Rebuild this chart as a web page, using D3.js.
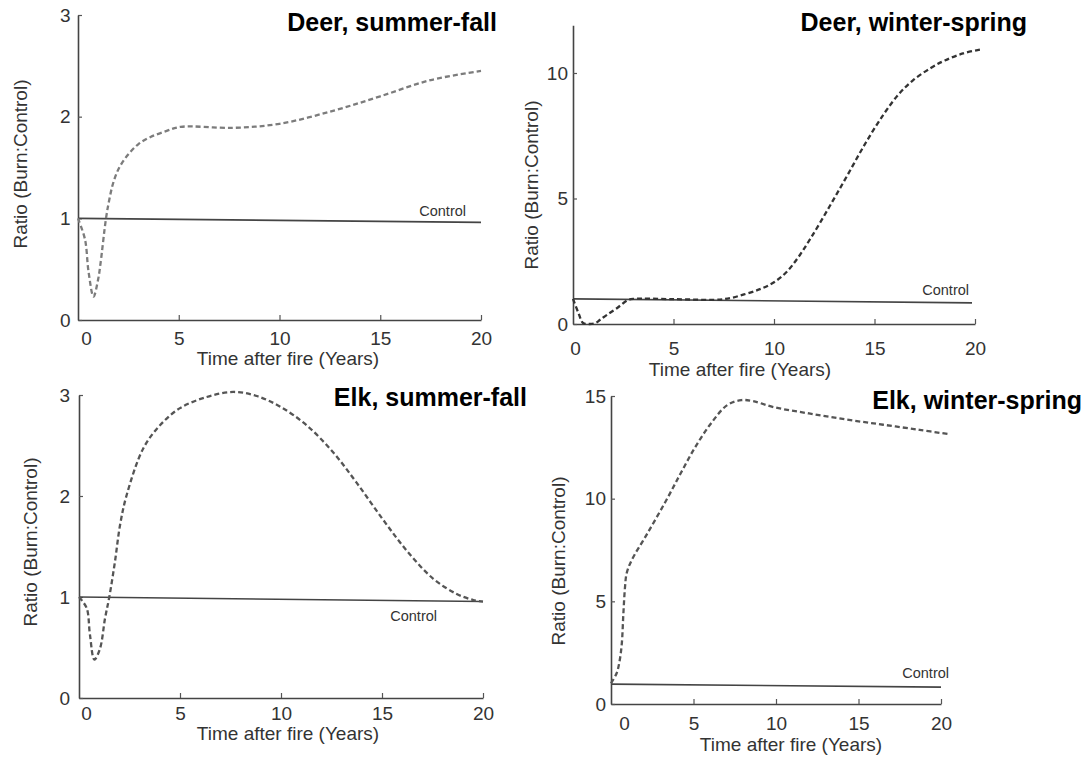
<!DOCTYPE html>
<html>
<head>
<meta charset="utf-8">
<script src="https://cdn.jsdelivr.net/npm/d3@7"></script>
<style>
  body { margin: 0; background: #fff; }
  svg { display: block; font-family: "Liberation Sans", Arial, sans-serif; }
  .tick text { font-size: 19px; fill: #333; }
  .axis-title { font-size: 19px; fill: #333; }
  .panel-title { font-size: 25px; font-weight: bold; fill: #000; }
  .control-label { font-size: 14.5px; fill: #333; }
</style>
</head>
<body>
<div id="chart"></div>
<script>
// ---- data: [years after fire, ratio burn:control] ----
const deerSummerFall = [
  [0, 1.0], [0.35, 0.79], [0.52, 0.48], [0.77, 0.23], [1.0, 0.4], [1.12, 0.56],
  [1.39, 1.0], [1.55, 1.18], [1.75, 1.35], [2.05, 1.5], [2.5, 1.63], [3.0, 1.73],
  [3.6, 1.8], [4.4, 1.86], [5.1, 1.9], [7.7, 1.89], [10, 1.93], [12.7, 2.06],
  [15, 2.2], [17.5, 2.36], [20, 2.45]
];
const deerSummerControl = [[0, 1.0], [20, 0.96]];

const deerWinterSpring = [
  [0, 1.0], [0.27, 0.44], [0.5, 0.04], [0.8, 0.0], [1.1, 0.03], [1.35, 0.17],
  [1.7, 0.37], [2.2, 0.64], [2.7, 0.94], [3, 1.0], [5, 0.99], [7.5, 0.99],
  [8.6, 1.2], [9.4, 1.42], [10, 1.66], [10.6, 2.05], [11.2, 2.65], [11.85, 3.45],
  [12.74, 4.65], [13.64, 5.91], [14.55, 7.2], [15.45, 8.35], [16.2, 9.15],
  [16.9, 9.7], [17.8, 10.2], [18.5, 10.5], [19.4, 10.78], [20.25, 10.93]
];
const deerWinterControl = [[0, 1.0], [19.85, 0.84]];

const elkSummerFall = [
  [0, 1.0], [0.38, 0.89], [0.54, 0.63], [0.76, 0.38], [1.04, 0.49], [1.29, 0.79],
  [1.5, 1.0], [1.78, 1.35], [2.03, 1.71], [2.36, 2.01], [3.18, 2.47], [4.01, 2.7],
  [5.0, 2.87], [6.32, 2.98], [7.64, 3.03], [8.8, 2.99], [10.0, 2.88], [11.27, 2.7],
  [12.59, 2.43], [13.75, 2.13], [15.0, 1.78], [16.22, 1.46], [17.54, 1.18],
  [18.7, 1.03], [19.52, 0.97], [20, 0.955]
];
const elkSummerControl = [[0, 1.0], [20, 0.955]];

const elkWinterSpring = [
  [0, 1.01], [0.34, 1.5], [0.5, 2.0], [0.65, 2.9], [0.75, 4.4], [0.85, 5.7],
  [0.95, 6.37], [1.25, 7.0], [2.2, 8.3], [3.3, 9.85], [4.2, 11.2], [5.06, 12.45],
  [6.0, 13.6], [7.05, 14.56], [7.9, 14.8], [8.6, 14.75], [9.9, 14.45], [12.0, 14.15],
  [14.3, 13.85], [16.5, 13.6], [18.7, 13.35], [20.4, 13.15]
];
const elkWinterControl = [[0, 0.97], [20, 0.82]];

const titles = ["Deer, summer-fall", "Deer, winter-spring", "Elk, summer-fall", "Elk, winter-spring"];
const xTicks = [0, 5, 10, 15, 20];
const yTicksLow = [0, 1, 2, 3];
const yTicksDeerWinter = [0, 5, 10];
const yTicksElkWinter = [0, 5, 10, 15];
const xAxisTitle = "Time after fire (Years)";
const yAxisTitle = "Ratio (Burn:Control)";
const controlText = "Control";

// ---- layout of the four panels (pixels) ----
const panels = [
  { title: titles[0], burn: deerSummerFall, control: deerSummerControl, yTicks: yTicksLow, yMax: 3,
    xr: [78, 481], yr: [320, 15], dash: "#7c7c7c",
    titleAt: [497, 31], ctrlAt: [466, 216], xTitleAt: [288, 365], yTitleAt: [27, 164],
    xPad: 12, yPad: 7.5, zeroShift: 8 },
  { title: titles[1], burn: deerWinterSpring, control: deerWinterControl, yTicks: yTicksDeerWinter, yMax: 11.9,
    xr: [573, 975], yr: [324, 25.3], dash: "#333",
    titleAt: [1027, 31], ctrlAt: [969, 295], xTitleAt: [740, 376], yTitleAt: [538, 185],
    xPad: 18, yPad: 5, zeroShift: 2 },
  { title: titles[2], burn: elkSummerFall, control: elkSummerControl, yTicks: yTicksLow, yMax: 3,
    xr: [79, 483], yr: [698, 395], dash: "#555",
    titleAt: [527, 406], ctrlAt: [437, 621], xTitleAt: [288, 740], yTitleAt: [37, 542],
    xPad: 9, yPad: 9, zeroShift: 7 },
  { title: titles[3], burn: elkWinterSpring, control: elkWinterControl, yTicks: yTicksElkWinter, yMax: 15,
    xr: [611, 941], yr: [704, 396], dash: "#555",
    titleAt: [1082, 409], ctrlAt: [949, 678], xTitleAt: [791, 751], yTitleAt: [565, 561],
    xPad: 13, yPad: 5, zeroShift: 13 }
];

const width = 1087, height = 757;
const svg = d3.select("#chart").append("svg")
  .attr("width", width).attr("height", height);

panels.forEach(p => {
  const x = d3.scaleLinear().domain([0, 20]).range(p.xr);
  const y = d3.scaleLinear().domain([0, p.yMax]).range(p.yr);
  const g = svg.append("g");

  // x axis, ticks pointing up into the plot
  const xa = g.append("g").attr("transform", `translate(0,${y(0)})`)
    .call(d3.axisBottom(x).tickValues(xTicks).tickSizeInner(-5).tickSizeOuter(0)
      .tickPadding(p.xPad).tickFormat(d3.format("d")));
  xa.selectAll(".tick").filter(d => d === 0).select("line").remove();
  xa.selectAll(".tick").filter(d => d === 0).select("text").attr("dx", p.zeroShift);

  // y axis, ticks pointing right
  g.append("g").attr("transform", `translate(${x(0)},0)`)
    .call(d3.axisLeft(y).tickValues(p.yTicks).tickSizeInner(-4).tickSizeOuter(0)
      .tickPadding(p.yPad).tickFormat(d3.format("d")));

  g.selectAll(".domain").attr("stroke", "#444").attr("stroke-width", 1.6);
  g.selectAll(".tick line").attr("stroke", "#555").attr("stroke-width", 1.2);
  g.selectAll(".tick text").attr("font-family", null).attr("font-size", null);

  const line = d3.line().x(d => x(d[0])).y(d => y(d[1]));

  g.append("path").datum(p.control)
    .attr("fill", "none").attr("stroke", "#444").attr("stroke-width", 1.6)
    .attr("d", line);

  g.append("path").datum(p.burn)
    .attr("fill", "none").attr("stroke", p.dash).attr("stroke-width", 2.3)
    .attr("stroke-dasharray", "5,3")
    .attr("d", line.curve(d3.curveCatmullRom.alpha(0.5)));

  g.append("text").attr("class", "control-label")
    .attr("x", p.ctrlAt[0]).attr("y", p.ctrlAt[1]).attr("text-anchor", "end")
    .text(controlText);

  g.append("text").attr("class", "panel-title")
    .attr("x", p.titleAt[0]).attr("y", p.titleAt[1]).attr("text-anchor", "end")
    .text(p.title);

  g.append("text").attr("class", "axis-title")
    .attr("x", p.xTitleAt[0]).attr("y", p.xTitleAt[1]).attr("text-anchor", "middle")
    .text(xAxisTitle);

  g.append("text").attr("class", "axis-title")
    .attr("transform", `translate(${p.yTitleAt[0]},${p.yTitleAt[1]}) rotate(-90)`)
    .attr("text-anchor", "middle")
    .text(yAxisTitle);
});
</script>
</body>
</html>
